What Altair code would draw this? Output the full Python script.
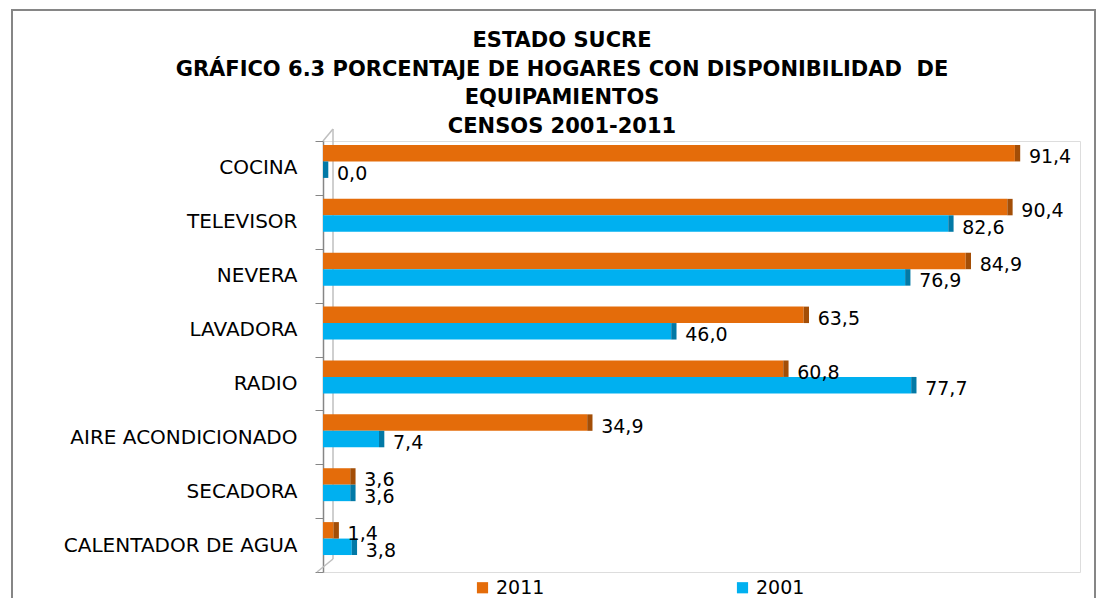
import altair as alt
import pandas as pd

categories = ["COCINA", "TELEVISOR", "NEVERA", "LAVADORA", "RADIO",
              "AIRE ACONDICIONADO", "SECADORA", "CALENTADOR DE AGUA"]
series = ["2011", "2001"]
values_2011 = [91.4, 90.4, 84.9, 63.5, 60.8, 34.9, 3.6, 1.4]
values_2001 = [0.0, 82.6, 76.9, 46.0, 77.7, 7.4, 3.6, 3.8]
title_lines = ["ESTADO SUCRE",
               "GRÁFICO 6.3 PORCENTAJE DE HOGARES CON DISPONIBILIDAD\u00a0 DE",
               "EQUIPAMIENTOS",
               "CENSOS 2001-2011"]

rows = []
for c, a, b in zip(categories, values_2011, values_2001):
    rows.append({"category": c, "series": "2011", "value": a})
    rows.append({"category": c, "series": "2001", "value": b})
df = pd.DataFrame(rows)
df["label"] = df["value"].map(lambda v: f"{v:.1f}".replace(".", ","))
df["face_end"] = df["value"] + 0.7

W, H = 757, 431
FONT = "DejaVu Sans"

y_enc = alt.Y("category:N", sort=categories,
              scale=alt.Scale(paddingInner=0, paddingOuter=0),
              axis=alt.Axis(title=None, tickBand="extent", tickSize=8,
                            tickColor="#868686", domainColor="#868686",
                            domainWidth=1.5, labelFont=FONT, labelFontSize=20,
                            labelColor="#000000", labelPadding=18, labelLimit=400,
                            grid=False))
yoff = alt.YOffset("series:N", sort=series,
                   scale=alt.Scale(paddingInner=0, paddingOuter=0.636, align=0.19))
x_enc = alt.X("value:Q", scale=alt.Scale(domain=[0, 100]), axis=None)

base = alt.Chart(df)

bars = base.mark_bar().encode(
    y=y_enc, yOffset=yoff, x=x_enc,
    color=alt.Color("series:N",
                    scale=alt.Scale(domain=series, range=["#E46C0A", "#00B0F0"]),
                    legend=alt.Legend(title=None, orient="none", legendX=150, legendY=437,
                                      direction="horizontal", columns=2, columnPadding=188,
                                      symbolType="square", symbolSize=125,
                                      symbolStrokeWidth=0, labelFont=FONT,
                                      labelFontSize=19, labelColor="#000000",
                                      labelOffset=4)),
)

faces = base.mark_bar().encode(
    y=alt.Y("category:N", sort=categories), yOffset=yoff,
    x=alt.X("value:Q"), x2="face_end:Q",
    color=alt.condition("datum.series == '2011'", alt.value("#A34E07"), alt.value("#0279A6")),
)

labels = base.mark_text(align="left", dx=14, dy=4, font=FONT, fontSize=19,
                        color="#000000").encode(
    y=alt.Y("category:N", sort=categories), yOffset=yoff,
    x=alt.X("value:Q"), text="label:N",
)

one = pd.DataFrame({"k": [0]})
title = alt.Chart(one).mark_text(
    text="\n".join(title_lines), lineBreak="\n", lineHeight=28.5, font=FONT,
    fontSize=21, fontWeight="bold", color="#000000", align="center",
    baseline="alphabetic").encode(x=alt.value(239), y=alt.value(-94))
wall = alt.Chart(one).mark_rule(color="#BFBFBF", strokeWidth=1.5).encode(
    x=alt.value(10), y=alt.value(-12), y2=alt.value(418))
diag_top = alt.Chart(one).mark_rule(color="#BFBFBF", strokeWidth=1.5).encode(
    x=alt.value(0), x2=alt.value(10), y=alt.value(0), y2=alt.value(-12))
diag_bot = alt.Chart(one).mark_rule(color="#BFBFBF", strokeWidth=1.5).encode(
    x=alt.value(-6), x2=alt.value(10), y=alt.value(431), y2=alt.value(418))
border = alt.Chart(one).mark_rect(fill=None, stroke="#868686", strokeWidth=2).encode(
    x=alt.value(-311), x2=alt.value(772), y=alt.value(-131), y2=alt.value(480))

chart = alt.layer(border, title, wall, diag_top, diag_bot, bars, faces, labels).properties(
    width=W, height=H,
    autosize=alt.AutoSizeParams(type="none"),
    padding={"left": 315, "top": 133, "right": 20, "bottom": 26},
).configure_view(stroke=None).configure(background="white")

chart.save("out.html", embed_options={"renderer": "svg", "actions": False})
